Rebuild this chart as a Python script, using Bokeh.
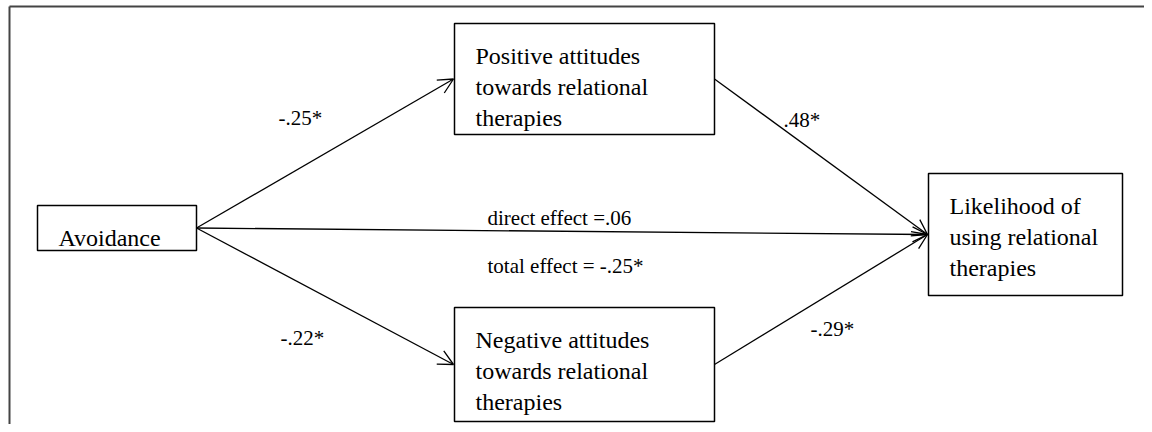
from bokeh.plotting import figure
from bokeh.models import Range1d, ColumnDataSource, Arrow, OpenHead
from bokeh.core.properties import value
from bokeh.embed import file_html
from bokeh.resources import INLINE

# ---- data: node labels and path coefficients ----
node_ids = ["avoid", "pos", "neg", "likely"]
node_labels = [
    ["Avoidance"],
    ["Positive attitudes", "towards relational", "therapies"],
    ["Negative attitudes", "towards relational", "therapies"],
    ["Likelihood of", "using relational", "therapies"],
]
path_from = ["avoid", "avoid", "pos", "neg", "avoid"]
path_to = ["pos", "neg", "likely", "likely", "likely"]
path_coef = ["-.25*", "-.22*", ".48*", "-.29*", None]
direct_effect = ".06"
total_effect = "-.25*"

# ---- layout (page pixel coordinates) ----
W, H = 1144, 424
box_geom = {
    "avoid": (37, 196, 205, 250),
    "pos": (454, 714, 23, 134),
    "neg": (454, 714, 307, 421),
    "likely": (928, 1122, 173, 295),
}
coef_pos = [(278, 117), (280, 337), (783, 119), (810, 328)]
effect_pos = [(487, 217), (487, 265)]
FONT = value("'Liberation Serif', 'Times New Roman', Times, serif")

p = figure(width=W, height=H, x_range=Range1d(0, W), y_range=Range1d(H, 0),
           output_backend="svg", toolbar_location=None, min_border=0,
           background_fill_color="white", border_fill_color="white")
p.axis.visible = False
p.grid.visible = False
p.outline_line_color = None

# outer frame (top & left edges visible)
p.segment(x0=[9, 9], y0=[6, 6], x1=[1160, 9], y1=[6, 440], line_color="#444444", line_width=2)

# boxes
bl = [box_geom[n][0] for n in node_ids]
br = [box_geom[n][1] for n in node_ids]
bt = [box_geom[n][2] for n in node_ids]
bb = [box_geom[n][3] for n in node_ids]
p.quad(left=bl, right=br, top=bt, bottom=bb, fill_color="white",
       line_color="black", line_width=1.5)

# box texts
tx, ty, tt = [], [], []
for n, lines in zip(node_ids, node_labels):
    l, r, t, b = box_geom[n]
    for i, s in enumerate(lines):
        tx.append(l + 21)
        ty.append(t + 32 + 31 * i)
        tt.append(s)
p.text(x=tx, y=ty, text=tt, text_font=FONT, text_font_size="24px",
       text_color="black", text_baseline="alphabetic", text_align="left")

# arrows
def anchor_out(n):
    l, r, t, b = box_geom[n]
    return r, (t + b) / 2

def anchor_in(n):
    l, r, t, b = box_geom[n]
    return l, (t + b) / 2

xs, ys, xe, ye = [], [], [], []
for a, b in zip(path_from, path_to):
    x0, y0 = anchor_out(a)
    x1, y1 = anchor_in(b)
    xs.append(x0); ys.append(y0); xe.append(x1 - 1); ye.append(y1)
asrc = ColumnDataSource(dict(x0=xs, y0=ys, x1=xe, y1=ye))
p.add_layout(Arrow(end=OpenHead(size=15, line_width=1.3, line_color="black"),
                   x_start="x0", y_start="y0", x_end="x1", y_end="y1",
                   line_width=1.3, line_color="black", source=asrc))

# coefficient labels
cx, cy, ct = [], [], []
for c, (x, y) in zip([c for c in path_coef if c], coef_pos):
    cx.append(x); cy.append(y); ct.append(c)
ct += ["direct effect =" + direct_effect, "total effect = " + total_effect]
cx += [e[0] for e in effect_pos]
cy += [e[1] for e in effect_pos]
p.text(x=cx, y=cy, text=ct, text_font=FONT, text_font_size="21px",
       text_color="black", text_baseline="alphabetic", text_align="left")

open("out.html", "w").write(file_html(p, INLINE))
